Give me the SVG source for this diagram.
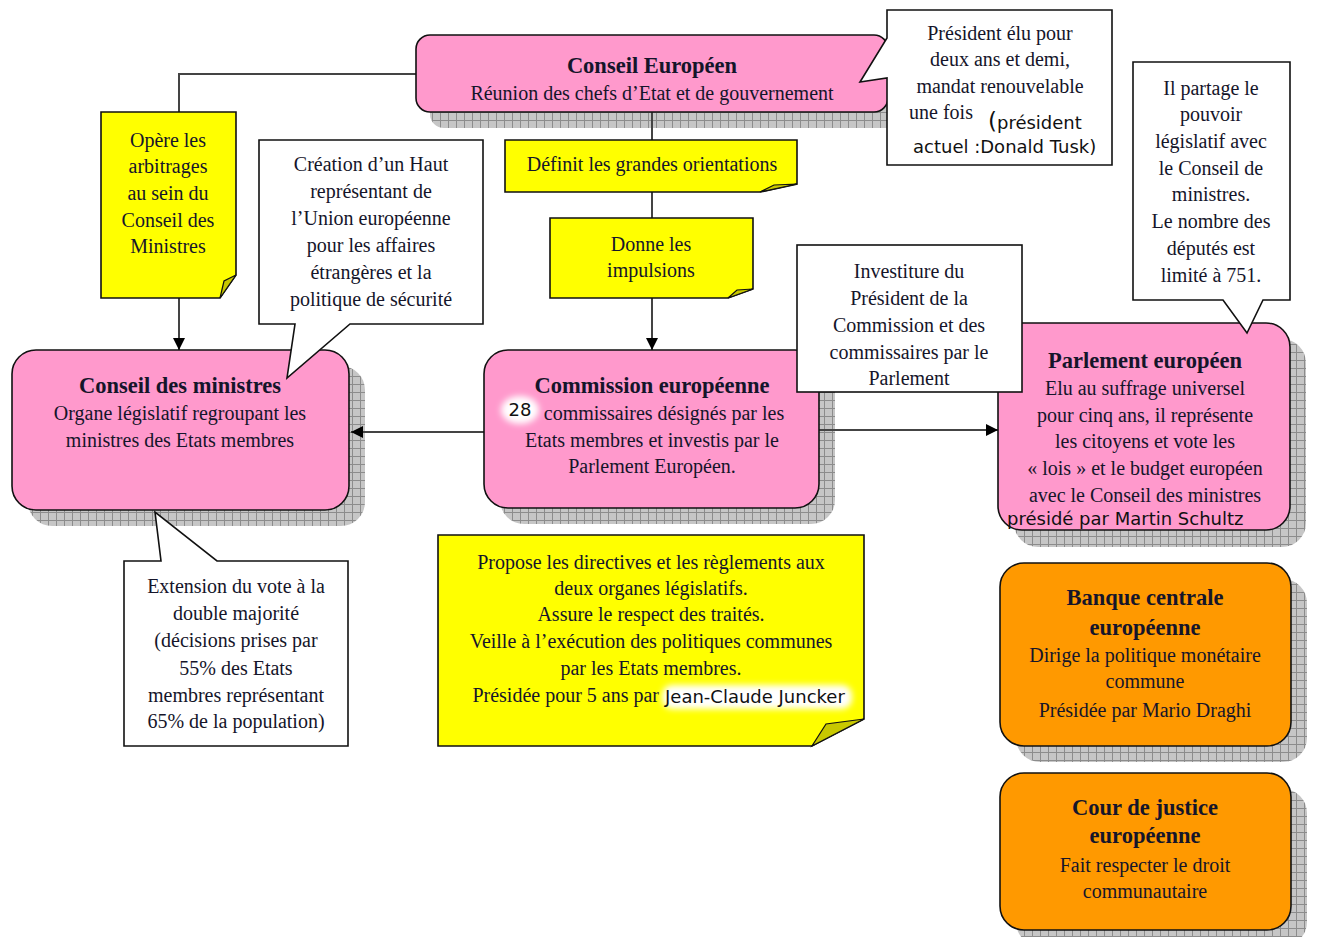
<svg xmlns="http://www.w3.org/2000/svg" width="1317" height="937" viewBox="0 0 1317 937">
<style>
.t{font-family:"Liberation Serif","Times New Roman",serif;font-size:20px;fill:#15152a;text-anchor:middle}
.b{font-family:"Liberation Serif","Times New Roman",serif;font-size:22.5px;font-weight:bold;fill:#15152a;text-anchor:middle}
.s{font-family:"DejaVu Sans",sans-serif;font-size:18px;fill:#111}
.pink{fill:#ff99cc;stroke:#111;stroke-width:1.6}
.orange{fill:#ff9900;stroke:#111;stroke-width:1.6}
.yellow{fill:#ffff00;stroke:#111;stroke-width:1.6}
.fold{fill:#c8c800;stroke:#111;stroke-width:1.2}
.note{fill:#fff;stroke:#111;stroke-width:1.6}
.shadow{fill:url(#grid)}
.conn{stroke:#444;stroke-width:2;fill:none}
</style>
<defs>
<pattern id="grid" width="8" height="8" patternUnits="userSpaceOnUse">
<rect width="8" height="8" fill="#c6c6c6"/>
<path d="M0 0.5H8M0.5 0V8" stroke="#8c8c8c" stroke-width="1"/>
</pattern>
<marker id="arr" viewBox="0 0 12 12" refX="12" refY="6" markerWidth="12" markerHeight="12" markerUnits="userSpaceOnUse" orient="auto">
<path d="M0 0L12 6L0 12Z" fill="#000"/>
</marker>
<filter id="glow" x="-30%" y="-50%" width="160%" height="200%">
<feGaussianBlur stdDeviation="3"/>
</filter>
</defs>
<rect width="1317" height="937" fill="#fff"/>

<g id="shadows">
<rect class="shadow" x="430" y="51" width="472" height="77" rx="14"/>
<rect class="shadow" x="28" y="366" width="337" height="160" rx="24"/>
<rect class="shadow" x="500" y="366" width="335" height="158" rx="24"/>
<rect class="shadow" x="1014" y="339" width="292" height="208" rx="24"/>
<rect class="shadow" x="1016" y="579" width="291" height="183" rx="24"/>
<rect class="shadow" x="1016" y="789" width="291" height="157" rx="24"/>
</g>

<g id="connectors">
<path class="conn" d="M416 74H179V112"/>
<path class="conn" d="M179 298V350" marker-end="url(#arr)"/>
<path class="conn" d="M652 112V140"/>
<path class="conn" d="M652 192V218"/>
<path class="conn" d="M652 298V350" marker-end="url(#arr)"/>
<path class="conn" d="M484 432H351" marker-end="url(#arr)"/>
<path class="conn" d="M819 430H998" marker-end="url(#arr)"/>
</g>

<g id="conseil-europeen">
<rect class="pink" x="416" y="35" width="472" height="77" rx="14"/>
<text class="b" x="652" y="73">Conseil Européen</text>
<text class="t" x="652" y="100">Réunion des chefs d’Etat et de gouvernement</text>
</g>

<g id="conseil-ministres">
<rect class="pink" x="12" y="350" width="337" height="160" rx="24"/>
<text class="b" x="180" y="393">Conseil des ministres</text>
<text class="t" x="180" y="420">Organe législatif regroupant les</text>
<text class="t" x="180" y="447">ministres des Etats membres</text>
</g>

<g id="commission">
<rect class="pink" x="484" y="350" width="335" height="158" rx="24"/>
<text class="b" x="652" y="393">Commission européenne</text>
<ellipse cx="520" cy="410" rx="19" ry="14" fill="#fff" filter="url(#glow)"/>
<text class="s" x="520" y="416" text-anchor="middle">28</text>
<text class="t" x="664" y="420">commissaires désignés par les</text>
<text class="t" x="652" y="447">Etats membres et investis par le</text>
<text class="t" x="652" y="473">Parlement Européen.</text>
</g>

<g id="parlement">
<rect class="pink" x="998" y="323" width="292" height="207" rx="24"/>
<text class="b" x="1145" y="368">Parlement européen</text>
<text class="t" x="1145" y="395">Elu au suffrage universel</text>
<text class="t" x="1145" y="422">pour cinq ans, il représente</text>
<text class="t" x="1145" y="448">les citoyens et vote les</text>
<text class="t" x="1145" y="475">« lois » et le budget européen</text>
<text class="t" x="1145" y="502">avec le Conseil des ministres</text>
<text class="s" x="1007" y="525">présidé par Martin Schultz</text>
</g>

<g id="bce">
<rect class="orange" x="1000" y="563" width="291" height="183" rx="24"/>
<text class="b" x="1145" y="605">Banque centrale</text>
<text class="b" x="1145" y="635">européenne</text>
<text class="t" x="1145" y="662">Dirige la politique monétaire</text>
<text class="t" x="1145" y="688">commune</text>
<text class="t" x="1145" y="717">Présidée par Mario Draghi</text>
</g>

<g id="cour-justice">
<rect class="orange" x="1000" y="773" width="291" height="157" rx="24"/>
<text class="b" x="1145" y="815">Cour de justice</text>
<text class="b" x="1145" y="843">européenne</text>
<text class="t" x="1145" y="872">Fait respecter le droit</text>
<text class="t" x="1145" y="898">communautaire</text>
</g>

<g id="note-opere">
<path class="yellow" d="M101 112H236V275L220 298H101Z"/>
<path class="fold" d="M236 275L220 298L224 281Z"/>
<text class="t" x="168" y="147">Opère les</text>
<text class="t" x="168" y="173">arbitrages</text>
<text class="t" x="168" y="200">au sein du</text>
<text class="t" x="168" y="227">Conseil des</text>
<text class="t" x="168" y="253">Ministres</text>
</g>

<g id="note-definit">
<path class="yellow" d="M505 140H797V184L760 192H505Z"/>
<path class="fold" d="M797 184L760 192L774 185Z"/>
<text class="t" x="652" y="171">Définit les grandes orientations</text>
</g>

<g id="note-donne">
<path class="yellow" d="M550 218H753V289L728 298H550Z"/>
<path class="fold" d="M753 289L728 298L737 290Z"/>
<text class="t" x="651" y="251">Donne les</text>
<text class="t" x="651" y="277">impulsions</text>
</g>

<g id="note-propose">
<path class="yellow" d="M438 535H864V719L812 746H438Z"/>
<path class="fold" d="M864 719L812 746L826 724Z"/>
<text class="t" x="651" y="569">Propose les directives et les règlements aux</text>
<text class="t" x="651" y="595">deux organes législatifs.</text>
<text class="t" x="651" y="621">Assure le respect des traités.</text>
<text class="t" x="651" y="648">Veille à l’exécution des politiques communes</text>
<text class="t" x="651" y="675">par les Etats membres.</text>
<text class="t" x="659" y="702" style="text-anchor:end">Présidée pour 5 ans par</text>
<rect x="662" y="685" width="190" height="24" rx="10" fill="#fff" filter="url(#glow)"/>
<text class="s" x="665" y="703">Jean-Claude Juncker</text>
</g>

<g id="callout-president">
<path class="note" d="M887 10H1112V165H887V78L860 82L887 38Z"/>
<text class="t" x="1000" y="40">Président élu pour</text>
<text class="t" x="1000" y="66">deux ans et demi,</text>
<text class="t" x="1000" y="93">mandat renouvelable</text>
<text class="t" x="941" y="119">une fois</text>
<text class="s" x="988" y="129"><tspan style="font-size:23px">(</tspan>président</text>
<text class="s" x="913" y="153">actuel :Donald Tusk)</text>
</g>

<g id="callout-haut-representant">
<path class="note" d="M259 140H483V324H350L287 378L295 324H259Z"/>
<text class="t" x="371" y="171">Création d’un Haut</text>
<text class="t" x="371" y="198">représentant de</text>
<text class="t" x="371" y="225">l’Union européenne</text>
<text class="t" x="371" y="252">pour les affaires</text>
<text class="t" x="371" y="279">étrangères et la</text>
<text class="t" x="371" y="306">politique de sécurité</text>
</g>

<g id="callout-investiture">
<rect class="note" x="797" y="245" width="225" height="147"/>
<text class="t" x="909" y="278">Investiture du</text>
<text class="t" x="909" y="305">Président de la</text>
<text class="t" x="909" y="332">Commission et des</text>
<text class="t" x="909" y="359">commissaires par le</text>
<text class="t" x="909" y="385">Parlement</text>
</g>

<g id="callout-partage">
<path class="note" d="M1133 62H1290V300H1263L1247 333L1223 300H1133Z"/>
<text class="t" x="1211" y="95">Il partage le</text>
<text class="t" x="1211" y="121">pouvoir</text>
<text class="t" x="1211" y="148">législatif avec</text>
<text class="t" x="1211" y="175">le Conseil de</text>
<text class="t" x="1211" y="201">ministres.</text>
<text class="t" x="1211" y="228">Le nombre des</text>
<text class="t" x="1211" y="255">députés est</text>
<text class="t" x="1211" y="282">limité à 751.</text>
</g>

<g id="callout-extension">
<path class="note" d="M124 561H161L155 512L217 561H348V746H124Z"/>
<text class="t" x="236" y="593">Extension du vote à la</text>
<text class="t" x="236" y="620">double majorité</text>
<text class="t" x="236" y="647">(décisions prises par</text>
<text class="t" x="236" y="675">55% des Etats</text>
<text class="t" x="236" y="702">membres représentant</text>
<text class="t" x="236" y="728">65% de la population)</text>
</g>
</svg>
